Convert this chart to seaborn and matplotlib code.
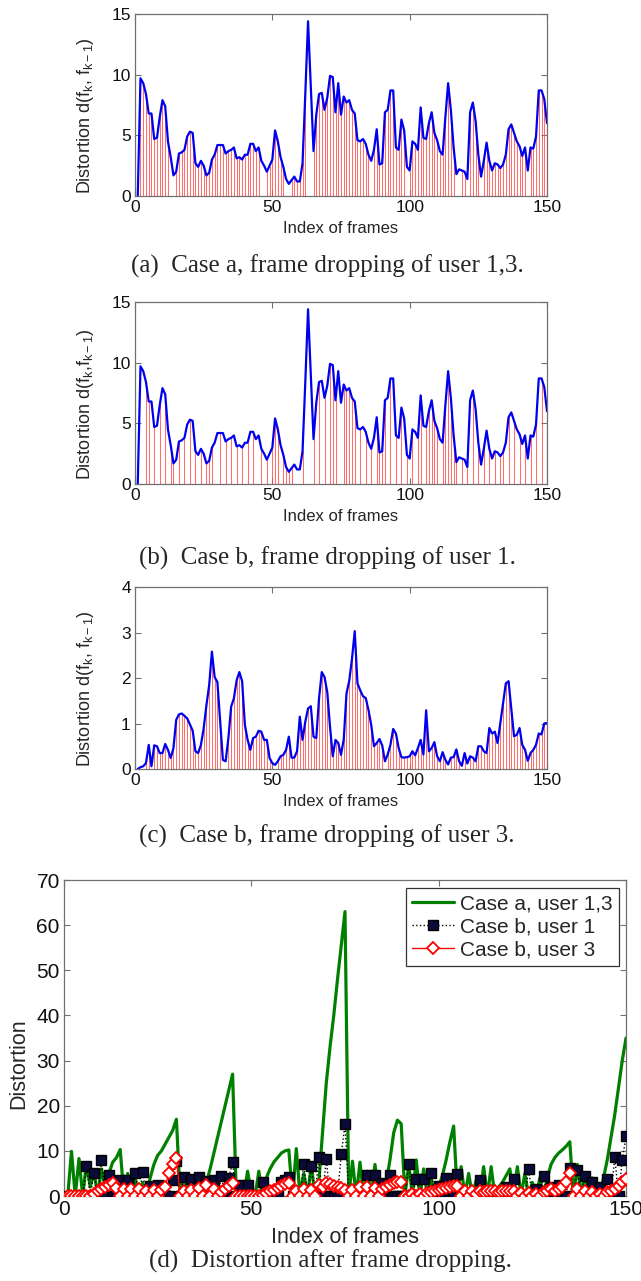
import numpy as np
import pandas as pd
import matplotlib
matplotlib.use("Agg")
import matplotlib.pyplot as plt
import seaborn as sns

# ---------------- data ----------------
frames = list(range(1, 151))

# frame-to-frame distortion d(f_k, f_{k-1}) of user 1 (panels a, b)
dist_user1 = [
    0.0, 9.7, 9.3, 8.4, 6.8, 6.8, 4.7, 4.8, 6.5, 7.9,
    7.4, 4.5, 3.2, 1.7, 2.0, 3.5, 3.6, 3.8, 4.9, 5.3,
    5.2, 2.7, 2.4, 2.9, 2.5, 1.7, 1.9, 3.0, 3.4, 4.2,
    4.2, 4.2, 3.5, 3.7, 3.8, 4.0, 3.1, 3.2, 3.0, 3.4,
    3.4, 4.3, 4.3, 3.7, 4.0, 2.9, 2.5, 2.0, 2.5, 3.0,
    5.4, 4.5, 3.2, 2.4, 1.4, 1.0, 1.3, 1.6, 1.2, 1.2,
    2.7, 8.4, 14.4, 9.0, 3.7, 6.7, 8.4, 8.5, 7.1, 8.1,
    9.9, 9.8, 6.9, 9.3, 6.7, 8.2, 7.7, 7.9, 7.1, 6.8,
    4.6, 4.5, 4.7, 4.3, 3.4, 2.9, 3.8, 5.5, 2.6, 2.7,
    6.9, 7.1, 8.7, 8.7, 4.0, 3.8, 6.3, 5.4, 2.4, 2.1,
    4.5, 4.3, 3.8, 7.3, 4.8, 4.7, 6.0, 6.9, 5.2, 4.6,
    3.7, 3.4, 6.5, 9.3, 7.1, 4.0, 1.8, 2.2, 2.1, 2.0,
    1.4, 6.9, 7.7, 6.2, 3.4, 1.6, 2.9, 4.4, 2.9, 2.1,
    2.7, 2.6, 2.3, 2.6, 3.4, 5.5, 5.9, 5.2, 4.5, 4.1,
    3.3, 4.0, 2.1, 4.0, 3.9, 4.9, 8.7, 8.7, 8.0, 6.0,
]

# frame-to-frame distortion of user 3 (panel c)
dist_user3 = [
    0.00, 0.04, 0.06, 0.13, 0.53, 0.06, 0.52, 0.50, 0.35, 0.35,
    0.55, 0.42, 0.24, 0.46, 1.08, 1.20, 1.22, 1.17, 1.11, 0.98,
    0.84, 0.39, 0.35, 0.53, 0.89, 1.40, 1.84, 2.58, 2.02, 1.91,
    1.04, 0.20, 0.17, 0.68, 1.37, 1.55, 1.95, 2.13, 1.93, 0.97,
    0.64, 0.42, 0.68, 0.71, 0.84, 0.82, 0.64, 0.64, 0.24, 0.13,
    0.09, 0.17, 0.28, 0.31, 0.42, 0.71, 0.25, 0.25, 0.39, 1.15,
    0.64, 1.04, 1.33, 1.38, 0.71, 0.68, 1.55, 2.13, 2.02, 1.69,
    0.93, 0.28, 0.64, 0.57, 0.31, 0.65, 1.66, 1.94, 2.42, 3.03,
    1.88, 1.73, 1.60, 1.56, 1.30, 0.97, 0.50, 0.57, 0.66, 0.52,
    0.17, 0.32, 0.53, 0.88, 0.78, 0.46, 0.26, 0.25, 0.26, 0.28,
    0.39, 0.30, 0.46, 0.64, 0.32, 1.29, 0.39, 0.46, 0.59, 0.28,
    0.17, 0.37, 0.20, 0.10, 0.25, 0.26, 0.43, 0.17, 0.07, 0.35,
    0.12, 0.28, 0.25, 0.17, 0.50, 0.50, 0.39, 0.35, 0.90, 0.78,
    0.82, 0.57, 1.00, 1.44, 1.88, 1.93, 1.33, 0.72, 0.75, 0.90,
    0.53, 0.42, 0.18, 0.35, 0.42, 0.53, 0.78, 0.76, 1.00, 1.01,
]

# frames without a stem in each panel
no_stem_a = [1, 13, 14, 46, 47, 55, 56, 63, 64, 86, 99, 117, 118, 121, 126, 143]
no_stem_b = [1, 2, 3, 6, 8, 10, 12, 15, 17, 19, 21, 23, 25, 29, 30, 32, 34, 36,
             38, 40, 42, 44, 45, 47, 49, 53, 58, 59, 60, 62, 63, 64, 66, 68, 70,
             74, 75, 81, 83, 85, 87, 92, 94, 96, 98, 100, 102, 105, 111, 118,
             120, 122, 124, 126, 128, 130, 132, 135, 137, 139, 141, 143, 145,
             147, 149]
no_stem_c = [1, 2, 3, 6, 32, 33, 50, 51, 91, 114, 119, 121]

# accumulated distortion after frame dropping (panel d)
case_a_user13 = [
    0, 9.9, 0, 8.3, 0, 7.3, 2, 5.5, 0, 6,
    2, 5, 7.5, 8.5, 10.3, 0, 5, 0, 4, 0,
    3, 0, 4, 7, 9, 10, 11.5, 13, 14.5, 17,
    0, 5, 0.5, 4, 0, 4, 0.5, 3, 6, 9.5,
    13, 16.5, 20, 23.5, 27, 0, 2, 0, 5.5, 0.5,
    0, 5.5, 0, 4, 6, 7.5, 8.5, 9.5, 10, 10.2,
    0, 10.5, 0, 5, 0, 7, 0, 3, 14, 25,
    33, 40, 48, 55.5, 63, 0, 7.7, 0, 7.5, 0,
    5.5, 0, 7, 0, 3, 3, 8, 14, 16.8, 16,
    0, 7, 0, 8, 0, 6, 0, 4, 0, 2,
    4.5, 8, 12, 15.5, 0, 6.5, 0, 5, 0, 3.5,
    0, 6.5, 0, 6.5, 0, 2, 3, 4.5, 6, 0,
    6.5, 0, 5, 0, 3, 0, 4, 0, 4, 7,
    8.5, 9.5, 10.2, 11, 12, 0, 7, 0, 5, 0,
    4, 0, 0, 4, 8, 13, 18, 24, 30, 35,
]

case_b_user1 = [
    0, 0, 0, 0, 0, 6.7, 0, 5.0, 0, 7.9,
    0, 4.6, 0, 0, 3.5, 0, 3.5, 0, 5.0, 0,
    5.3, 0, 2.3, 0, 2.5, 0, 0, 0, 3.6, 7.7,
    0, 4.1, 0, 3.8, 0, 4.1, 0, 3.4, 0, 3.6,
    0, 4.4, 0, 3.9, 7.6, 0, 2.4, 0, 2.4, 0,
    0, 0, 3.0, 0, 0, 0, 0, 3.0, 3.6, 4.2,
    0, 0, 0, 7.1, 0, 6.7, 0, 8.6, 0, 8.1,
    0, 0, 0, 9.3, 15.9, 0, 0, 0, 0, 0,
    4.6, 0, 4.7, 0, 2.9, 0, 4.7, 0, 0, 0,
    0, 7.0, 0, 3.8, 0, 3.8, 0, 5.1, 0, 2.3,
    0, 4.0, 0, 0, 4.9, 0, 0, 0, 0, 0,
    3.5, 0, 0, 0, 0, 0, 0, 2.0, 0, 3.8,
    0, 0, 0, 5.9, 0, 1.6, 0, 4.4, 0, 2.1,
    0, 2.5, 0, 0, 6.2, 0, 5.7, 0, 4.5, 0,
    3.0, 0, 2.0, 0, 3.8, 0, 8.7, 0, 7.9, 13.3,
]

case_b_user3 = [
    0, 0, 0, 0, 0, 0, 0, 0.5, 1.0, 1.5,
    2.0, 2.5, 2.8, 1.8, 0, 1.5, 0, 1.5, 0, 1.5,
    0, 1.2, 0, 1.3, 0, 1.3, 2.1, 5.1, 7.0, 8.5,
    0, 1.2, 0, 1.3, 0, 1.8, 0, 2.5, 0, 1.5,
    0, 0.8, 1.5, 2.2, 2.9, 0, 0, 0, 0, 0,
    0, 0, 0.3, 0.6, 1.0, 1.4, 1.8, 2.2, 2.7, 2.9,
    0, 1.2, 0, 1.5, 0, 1.4, 0, 2.5, 2.0, 2.9,
    2.6, 2.2, 2.0, 1.8, 1.4, 0, 1.4, 0, 2.0, 0,
    1.9, 0, 1.7, 0, 1.5, 2.0, 2.4, 2.8, 3.0, 3.0,
    0, 0, 0.5, 0, 0.5, 0, 0.6, 0.8, 1.0, 1.3,
    1.5, 1.8, 2.0, 2.2, 2.3, 0, 1.0, 0, 1.0, 0.5,
    1.0, 0.8, 1.0, 1.0, 1.0, 0.9, 1.0, 1.0, 1.0, 1.0,
    0, 0.6, 0, 0.7, 0, 0.5, 0, 0.8, 1.2, 1.5,
    1.0, 1.5, 2.0, 3.0, 5.0, 0, 1.5, 0, 1.0, 0,
    0.8, 0, 0.5, 0, 0.8, 1.0, 1.5, 2.2, 3.0, 3.8,
]

series_labels = ["Case a, user 1,3", "Case b, user 1", "Case b, user 3"]
captions = [
    "(a)  Case a, frame dropping of user 1,3.",
    "(b)  Case b, frame dropping of user 1.",
    "(c)  Case b, frame dropping of user 3.",
    "(d)  Distortion after frame dropping.",
]

# ---------------- style ----------------
sns.set_style("ticks")
plt.rcParams["font.family"] = ["Liberation Sans", "DejaVu Sans"]
plt.rcParams["mathtext.fontset"] = "custom"
plt.rcParams["mathtext.rm"] = "Liberation Sans"
plt.rcParams["mathtext.it"] = "Liberation Sans"
plt.rcParams["axes.unicode_minus"] = True

SPINE = "#707070"
W, H = 641, 1281
fig = plt.figure(figsize=(W / 100, H / 100), dpi=100)


def axes_px(left, top, right, bottom):
    return fig.add_axes([left / W, 1 - bottom / H, (right - left) / W, (bottom - top) / H])


def style_axes(ax, fs):
    for s in ax.spines.values():
        s.set_color(SPINE)
        s.set_linewidth(0.9)
    ax.tick_params(direction="in", length=4, width=0.8, color=SPINE,
                   top=True, right=True, labelsize=fs, labelcolor="#111111", pad=3)


def stem_panel(ax, values, missing, ymax, yticks, ylabel):
    df = pd.DataFrame({"frame": frames, "d": values})
    kept = df[~df["frame"].isin(missing)]
    ax.vlines(kept["frame"], 0, kept["d"], color="#ff4848", lw=0.75, alpha=0.8, zorder=1)
    sns.lineplot(data=df, x="frame", y="d", ax=ax, color="#0000ee", lw=1.6, zorder=2)
    ax.set_xlim(0, 150)
    ax.set_ylim(0, ymax)
    ax.set_xticks([0, 50, 100, 150])
    ax.set_yticks(yticks)
    style_axes(ax, 12.5)
    ax.set_xlabel("Index of frames", fontsize=12)
    ax.xaxis.set_label_coords(0.5, -0.18)
    ax.xaxis.label.set_va("center")
    ax.set_ylabel(ylabel, fontsize=13)
    ax.yaxis.set_label_coords(-0.12, 0.44)
    ax.yaxis.label.set_va("center")


lab_sp = r"Distortion d(f$_{\mathrm{k}}$, f$_{\mathrm{k-1}}$)"
lab_ns = r"Distortion d(f$_{\mathrm{k}}$,f$_{\mathrm{k-1}}$)"

ax_a = axes_px(135, 14, 547, 196)
stem_panel(ax_a, dist_user1, no_stem_a, 15, [0, 5, 10, 15], lab_sp)
ax_b = axes_px(135, 302, 547, 484)
stem_panel(ax_b, dist_user1, no_stem_b, 15, [0, 5, 10, 15], lab_ns)
ax_c = axes_px(135, 587, 547, 769)
stem_panel(ax_c, dist_user3, no_stem_c, 4, [0, 1, 2, 3, 4], lab_sp)

# panel d
ax_d = axes_px(64, 880, 626, 1196)
dd = pd.DataFrame({"frame": frames, "a13": case_a_user13,
                   "b1": case_b_user1, "b3": case_b_user3})
sns.lineplot(data=dd, x="frame", y="a13", ax=ax_d, color="#008000", lw=2.3,
             label=series_labels[0], zorder=2)
sns.lineplot(data=dd, x="frame", y="b1", ax=ax_d, color="black", lw=1.0,
             linestyle=":", marker="s", markersize=6.5, markerfacecolor="#0b0b3a",
             markeredgecolor="black", markeredgewidth=1.0,
             label=series_labels[1], zorder=3)
sns.lineplot(data=dd, x="frame", y="b3", ax=ax_d, color="#ff0000", lw=1.0,
             marker="D", markersize=6, markerfacecolor="white",
             markeredgecolor="#ff0000", markeredgewidth=1.3,
             label=series_labels[2], zorder=4)
ax_d.set_xlim(0, 150)
ax_d.set_ylim(0, 70)
ax_d.set_xticks([0, 50, 100, 150])
ax_d.set_yticks(range(0, 71, 10))
style_axes(ax_d, 15)
ax_d.set_xlabel("Index of frames", fontsize=15.5)
ax_d.xaxis.set_label_coords(0.5, -0.13)
ax_d.xaxis.label.set_va("center")
ax_d.set_ylabel("Distortion", fontsize=15.5)
ax_d.yaxis.set_label_coords(-0.08, 0.42)
ax_d.yaxis.label.set_va("center")
leg = ax_d.legend(loc="upper right", bbox_to_anchor=(0.988, 0.975), fontsize=15,
                  frameon=True, fancybox=False, framealpha=1, edgecolor="#333333",
                  handlelength=2.0, handletextpad=0.3, borderpad=0.3,
                  labelspacing=0.2, borderaxespad=0)
leg.get_frame().set_linewidth(0.9)

# sub-figure captions
for (cy, cx), text in zip([(266, 327), (558, 327), (836, 327), (1261, 330)], captions):
    fig.text(cx / W, 1 - cy / H, text, ha="center", va="center",
             family=["Liberation Serif", "DejaVu Serif"], fontsize=18)

fig.savefig("out.png", dpi=100)
